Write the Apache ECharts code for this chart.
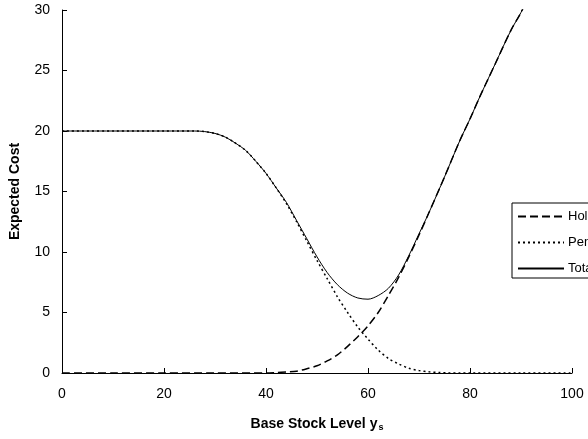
<!DOCTYPE html>
<html>
<head>
<meta charset="utf-8">
<script src="https://cdn.jsdelivr.net/npm/echarts@6/dist/echarts.min.js"></script>
<style>html,body{margin:0;padding:0;background:#fff}#c{width:588px;height:439px}</style>
</head>
<body>
<div id="c"></div>
<script>
const seriesNames = ['Holding Cost', 'Penalty Cost', 'Total Cost'];
const xTicks = [0, 20, 40, 60, 80, 100];
const yTicks = [0, 5, 10, 15, 20, 25, 30];

const holdingX = [0, 10, 20, 30, 40, 42, 44, 46, 48, 50, 52, 54, 56, 58, 60, 62, 64, 66, 68, 70, 72, 75, 78, 80, 82, 85, 88, 90, 92, 100];
const holdingY = [0, 0, 0, 0, 0, 0.03, 0.08, 0.15, 0.35, 0.6, 1.0, 1.5, 2.2, 3.0, 3.9, 5.0, 6.4, 7.9, 9.6, 11.4, 13.3, 16.2, 19.2, 21.0, 22.9, 25.6, 28.3, 29.8, 31.6, 40];

const penaltyX = [0, 10, 20, 26, 28, 30, 32, 34, 36, 38, 40, 42, 44, 46, 48, 50, 52, 54, 56, 58, 60, 62, 64, 66, 68, 70, 72, 74, 76, 78, 80, 90, 100];
const penaltyY = [20, 20, 20, 20, 19.95, 19.8, 19.5, 19.0, 18.4, 17.5, 16.5, 15.3, 14.0, 12.5, 10.9, 9.3, 7.8, 6.3, 5.0, 3.8, 2.8, 1.9, 1.2, 0.75, 0.4, 0.2, 0.1, 0.04, 0.01, 0, 0, 0, 0];

const totalX = [0, 10, 20, 26, 28, 30, 32, 34, 36, 38, 40, 42, 44, 46, 48, 50, 52, 54, 56, 58, 60, 62, 64, 66, 68, 70, 72, 75, 78, 80, 82, 85, 88, 90, 92, 100];
const totalY = [20, 20, 20, 20, 19.95, 19.8, 19.5, 19.0, 18.4, 17.5, 16.5, 15.3, 14.1, 12.6, 11.1, 9.6, 8.3, 7.3, 6.6, 6.2, 6.1, 6.4, 7.0, 8.1, 9.7, 11.5, 13.3, 16.2, 19.2, 21.0, 22.9, 25.6, 28.3, 29.8, 31.6, 40];

const zip = (xs, ys) => xs.map((x, i) => [x, ys[i]]);

const chart = echarts.init(document.getElementById('c'), null, {renderer: 'canvas'});
const font = 'Liberation Sans, Arial, sans-serif';
chart.setOption({
  animation: false,
  backgroundColor: '#fff',
  textStyle: {fontFamily: font},
  grid: {left: 60, right: 16, top: 10, bottom: 66},
  legend: {
    orient: 'vertical',
    left: 512, top: 203,
    borderColor: '#000', borderWidth: 1,
    padding: [7, 6, 3, 5],
    itemWidth: 46, itemHeight: 10, itemGap: 13,
    itemStyle: {opacity: 0},
    textStyle: {fontSize: 13, color: '#000', fontFamily: font, padding: [0, 0, 0, -1]},
    data: seriesNames
  },
  xAxis: {
    type: 'value', min: 0, max: 100, interval: 20,
    name: '{b|Base Stock Level y}{s|s}', nameLocation: 'middle', nameGap: 43,
    nameTextStyle: {rich: {
      b: {fontSize: 14, fontWeight: 'bold', color: '#000', fontFamily: font},
      s: {fontSize: 9, fontWeight: 'bold', color: '#000', fontFamily: font, verticalAlign: 'bottom', padding: [7, 0, 0, 1]}
    }},
    axisLine: {lineStyle: {color: '#000', width: 1}},
    axisTick: {inside: true, length: 5, lineStyle: {color: '#000'}},
    axisLabel: {fontSize: 14, color: '#000', margin: 14},
    splitLine: {show: false}
  },
  yAxis: {
    type: 'value', min: 0, max: 30, interval: 5,
    name: 'Expected Cost', nameLocation: 'middle', nameGap: 40,
    nameTextStyle: {fontSize: 14, fontWeight: 'bold', color: '#000'},
    axisLine: {show: true, lineStyle: {color: '#000', width: 1}},
    axisTick: {show: true, inside: true, length: 5, lineStyle: {color: '#000'}},
    axisLabel: {fontSize: 14, color: '#000', margin: 12},
    splitLine: {show: false}
  },
  series: [
    {name: seriesNames[0], type: 'line', data: zip(holdingX, holdingY), symbol: 'none', smooth: 0.3, clip: true,
     lineStyle: {color: '#000', width: 1.5, type: [8, 4]}, itemStyle: {color: '#000'}},
    {name: seriesNames[1], type: 'line', data: zip(penaltyX, penaltyY), symbol: 'none', smooth: 0.3, clip: true,
     lineStyle: {color: '#000', width: 1.5, type: [2, 3]}, itemStyle: {color: '#000'}},
    {name: seriesNames[2], type: 'line', data: zip(totalX, totalY), symbol: 'none', smooth: 0.3, clip: true,
     lineStyle: {color: '#000', width: 1, type: 'solid'}, itemStyle: {color: '#000'}}
  ]
});
</script>
</body>
</html>
